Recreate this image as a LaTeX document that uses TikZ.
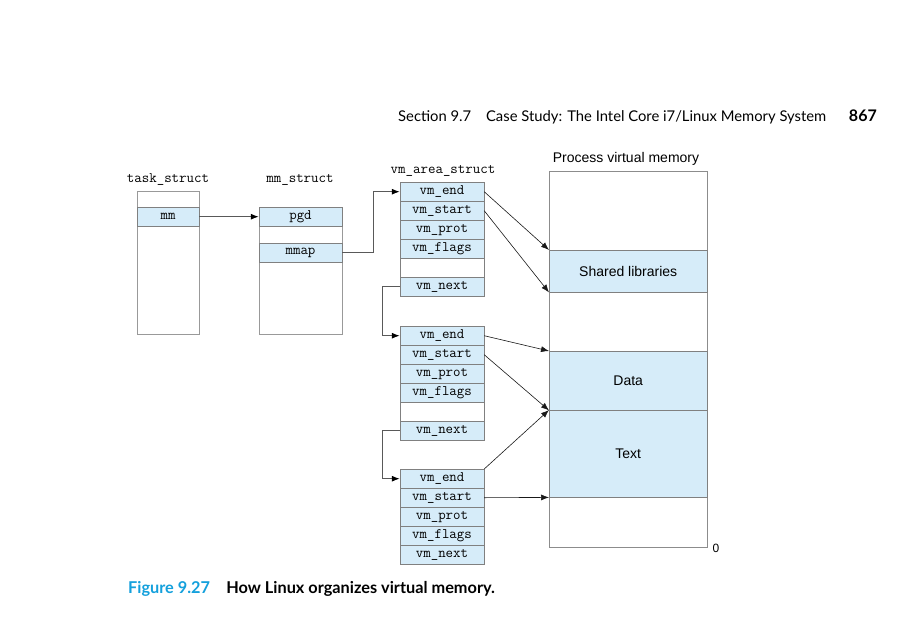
\documentclass[tikz,border=0pt]{standalone}
\usepackage{fontspec}
\newfontfamily\headfont{Lato}
\newfontfamily\helvfont{Liberation Sans}
\usetikzlibrary{positioning,arrows.meta}

\definecolor{fieldblue}{RGB}{214,236,249}
\definecolor{figcyan}{RGB}{20,160,220}

\tikzset{
    field/.style={draw=black!50, fill=fieldblue, minimum width=84pt, minimum height=19pt,
        inner sep=0pt, anchor=north, font=\fontsize{14.5}{16}\selectfont\ttfamily},
    blankfield/.style={field, fill=white},
    region/.style={draw=black!50, fill=fieldblue, minimum width=158pt, minimum height=42pt,
        inner sep=0pt, anchor=north west, font=\fontsize{14}{16}\selectfont\helvfont},
    structlabel/.style={font=\fontsize{14.5}{16}\selectfont\ttfamily},
    link/.style={black!65, line width=1pt, -{Latex[black,length=8pt,width=6pt]}},
    ptr/.style={black!90, line width=0.6pt, -{Latex[length=8pt,width=6pt]}}
}

\begin{document}
\begin{tikzpicture}[x=1pt, y=-1pt]
    \useasboundingbox (0,0) rectangle (909,643);

    % page header and caption
    \node[anchor=base west, inner sep=0pt, font=\fontsize{14.8}{17}\selectfont\headfont] (head) at (398,121)
        {Section 9.7\quad Case Study: The Intel Core i7/Linux Memory System};
    \node[anchor=base east, inner sep=0pt, font=\fontsize{16}{18}\selectfont\headfont\bfseries] (page) at (877,121) {867};
    \node[anchor=base west, inner sep=0pt, font=\fontsize{16.3}{18}\selectfont\headfont\bfseries] (cap) at (128,593)
        {\textcolor{figcyan}{Figure 9.27}\quad How Linux organizes virtual memory.};

    % task_struct
    \node[structlabel] (tasklbl) at (168,180) {task\_struct};
    \draw[black!40] (137,191) rectangle (199,334);
    \node[field, minimum width=62pt] (mm) at (168,207) {mm};

    % mm_struct
    \node[structlabel] (mmlbl) at (300,180) {mm\_struct};
    \draw[black!40] (259,207) rectangle (342,334);
    \node[field, minimum width=83pt] (pgd) at (300.5,207) {pgd};
    \node[field, minimum width=83pt] (mmap) at (300.5,243) {mmap};

    % vm_area_struct list
    \node[structlabel] (arealbl) at (443,171) {vm\_area\_struct};
    \foreach \i/\top/\nx in {1/182/5,2/326/5,3/469/4} {
        \node[field] (end\i)   at (442,\top)    {vm\_end};
        \node[field] (start\i) at (442,\top+19) {vm\_start};
        \node[field] (prot\i)  at (442,\top+38) {vm\_prot};
        \node[field] (flags\i) at (442,\top+57) {vm\_flags};
        \ifnum\nx=5
            \node[blankfield] (gap\i) at (442,\top+76) {};
        \fi
        \node[field] (next\i)  at (442,\top+\nx*19) {vm\_next};
    }

    % process virtual memory
    \node[font=\fontsize{14}{16}\selectfont\helvfont] (pvmlbl) at (626,159) {Process virtual memory};
    \draw[black!45] (549,171) rectangle (707,547);
    \node[region] (shlib) at (549,250) {Shared libraries};
    \node[region, minimum height=59pt] (data) at (549,351) {Data};
    \node[region, minimum height=87pt] (text) at (549,410) {Text};
    \node[font=\fontsize{12}{14}\selectfont\helvfont] (zero) at (716,548) {0};

    % pointers
    \draw[link] (mm.east) -- (pgd.west);
    \draw[link] (mmap.east) -- ++(31,0) |- (end1.west);
    \draw[link] (next1.west) -- ++(-17,0) |- (end2.west);
    \draw[link] (next2.west) -- ++(-17,0) |- (end3.west);

    \draw[ptr] (end1.east) -- (shlib.north west);
    \draw[ptr] (start1.east) -- (shlib.south west);
    \draw[ptr] (end2.east) -- (data.north west);
    \draw[ptr] (start2.east) -- (data.south west);
    \draw[ptr] (end3.north east) -- (text.north west);
    \draw[ptr] (start3.east) -- (text.south west);
\end{tikzpicture}
\end{document}
